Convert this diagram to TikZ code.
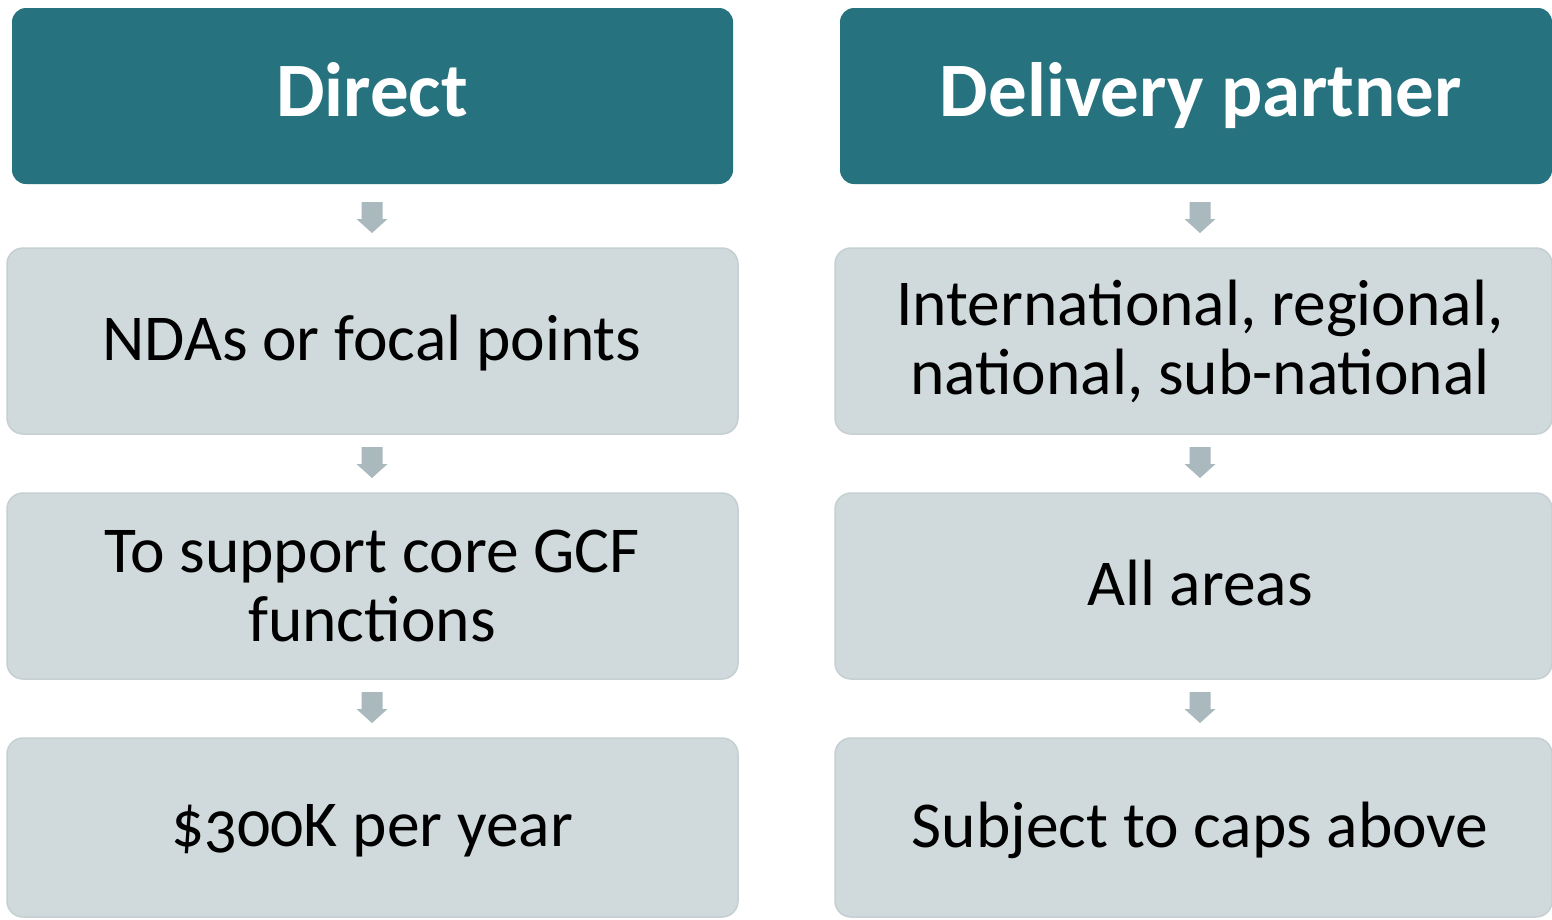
\documentclass[tikz,border=0pt]{standalone}
\usepackage{fontspec}
\setmainfont[Numbers=OldStyle]{Carlito}
\usetikzlibrary{calc}
\definecolor{headc}{HTML}{26737F}
\definecolor{boxc}{HTML}{D0D9DC}
\definecolor{boxline}{HTML}{C6D0D3}
\definecolor{arrowc}{HTML}{A9B9BD}
\tikzset{
  headbox/.style={fill=headc, draw=none, rounded corners=14pt},
  graybox/.style={fill=boxc, draw=boxline, line width=1.5pt, rounded corners=16pt},
  headtext/.style={text=white, font=\fontsize{77}{77}\selectfont\bfseries, align=center, anchor=base, inner sep=0pt},
  bodytext/.style={text=black, font=\fontsize{65.5}{69}\selectfont, align=center},
  bodyline/.style={bodytext, anchor=base, inner sep=0pt},
}
\newcommand\blockarrow[1]{%
  \fill[arrowc] ($(#1)+(-10.5,-14)$) -- ($(#1)+(10.5,-14)$) -- ($(#1)+(10.5,3)$)
    -- ($(#1)+(15.5,3)$) -- ($(#1)+(0,17)$) -- ($(#1)+(-15.5,3)$)
    -- ($(#1)+(-10.5,3)$) -- cycle;}
\begin{document}
\begin{tikzpicture}[x=1pt,y=-1pt]
\useasboundingbox (0,0) rectangle (1552,919);
\fill[white] (0,0) rectangle (1552,919);
\begin{scope}
\clip (0,0) rectangle (1552,919);
% left column
\path[headbox] (12,8) rectangle (733,184);
\draw[graybox] (7,248) rectangle (738,434);
\draw[graybox] (7,493) rectangle (738,679);
\draw[graybox] (7,738) rectangle (738,917);
% right column
\path[headbox] (840,8) rectangle (1552,184);
\draw[graybox] (835,248) rectangle (1552,434);
\draw[graybox] (835,493) rectangle (1552,679);
\draw[graybox] (835,738) rectangle (1552,917);
\end{scope}
\node[headtext] (h1) at (372,116) {Direct};
\node[headtext] (h2) at (1201,116) {Delivery partner};
\node[bodyline] (a1) at (372,360) {NDAs or focal points};
\node[bodytext] (a2) at (372,586) {To support core GCF\\functions};
\node[bodyline] (a3) at (372,846) {\$300K per year};
\node[bodytext] (b1) at (1200,341) {International, regional,\\national, sub-national};
\node[bodyline] (b2) at (1200,605) {All areas};
\node[bodyline] (b3) at (1200,847) {Subject to caps above};
\coordinate (m1) at (372,216);
\coordinate (m2) at (372,461);
\coordinate (m3) at (372,706);
\coordinate (n1) at (1200,216);
\coordinate (n2) at (1200,461);
\coordinate (n3) at (1200,706);
\blockarrow{m1}\blockarrow{m2}\blockarrow{m3}
\blockarrow{n1}\blockarrow{n2}\blockarrow{n3}
\end{tikzpicture}
\end{document}
